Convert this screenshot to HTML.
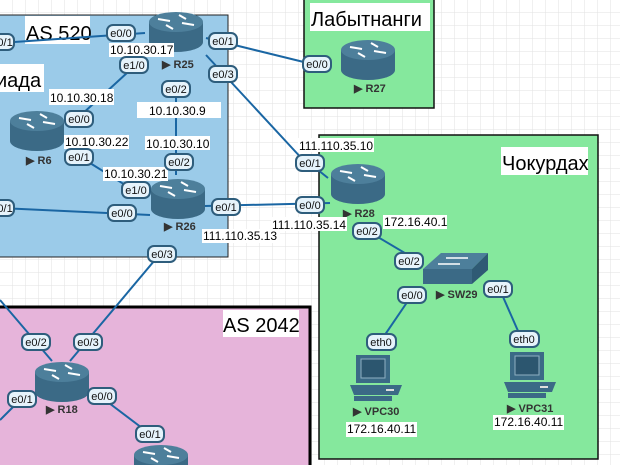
<!DOCTYPE html>
<html><head><meta charset="utf-8"><style>
html,body{margin:0;padding:0;width:620px;height:465px;overflow:hidden;background:#fff}
svg{display:block}
text{font-family:"Liberation Sans",sans-serif}
.p{fill:#e6f3fb;stroke:#2e5d7c;stroke-width:2}
.pt{font-size:11px;fill:#111;text-anchor:middle}
.ip{font-size:12px;fill:#000}
.ipb{fill:#fff}
.ln{stroke:#1a66a3;stroke-width:2;fill:none}
.nm{font-size:11px;font-weight:bold;fill:#333}
</style></head><body>
<svg width="620" height="465" viewBox="0 0 620 465">
<defs>
<pattern id="g" width="13" height="13" patternUnits="userSpaceOnUse"><path d="M13 0V13H0" fill="none" stroke="#e2e2e2" stroke-width="1"/></pattern>
<g id="rt">
<path d="M-27 0 V20 A27 10 0 0 0 27 20 V0 Z" fill="#3b6a86"/>
<ellipse cx="0" cy="0" rx="27" ry="10" fill="#4d7f9b"/>
<g stroke="#fff" stroke-width="2">
<line x1="-18" y1="-3" x2="-6" y2="-1"/><line x1="18" y1="3" x2="6" y2="1"/>
<line x1="3" y1="-7" x2="10" y2="-3"/><line x1="-3" y1="7" x2="-10" y2="3"/>
</g>
</g>
<g id="pc">
<rect x="6" y="0" width="34" height="28" fill="#3b6a86"/>
<rect x="11" y="4" width="24" height="19" fill="#2c566f" stroke="#8fb0c3" stroke-width="1"/>
<path d="M0 30 H52 L48 40 H4 Z" fill="#3b6a86"/>
<rect x="4" y="41" width="38" height="5" fill="#3b6a86"/>
<rect x="36" y="34" width="8" height="2" fill="#ddd"/>
</g>
</defs>
<rect width="620" height="465" fill="url(#g)"/>
<rect x="-5" y="15" width="233" height="242" fill="#9bcbe9" stroke="#222" stroke-width="1"/>
<rect x="304" y="-5" width="130" height="113" fill="#85e89d" stroke="#111" stroke-width="1.5"/>
<rect x="319" y="135" width="279" height="324" fill="#85e89d" stroke="#111" stroke-width="1.5"/>
<rect x="-5" y="307" width="315" height="170" fill="#e6b4da" stroke="#000" stroke-width="3"/>
<rect x="25" y="16" width="65" height="28" fill="#fff"/><text x="26" y="40" font-size="20">AS 520</text>
<rect x="0" y="64" width="44" height="28" fill="#fff"/><text x="-4" y="87" font-size="20">иада</text>
<rect x="310" y="3" width="120" height="28" fill="#fff"/><text x="311" y="26" font-size="20">Лабытнанги</text>
<rect x="501" y="147" width="87" height="28" fill="#fff"/><text x="502" y="170" font-size="20">Чокурдах</text>
<rect x="223" y="310" width="76" height="27" fill="#fff"/><text x="223" y="332" font-size="20">AS 2042</text>
<line class="ln" x1="0" y1="43" x2="145" y2="33"/>
<line class="ln" x1="206" y1="38" x2="320" y2="66"/>
<line class="ln" x1="206" y1="55" x2="305" y2="162"/>
<line class="ln" x1="176" y1="80" x2="176" y2="175"/>
<line class="ln" x1="128" y1="72" x2="68" y2="127"/>
<line class="ln" x1="90" y1="163" x2="130" y2="188"/>
<line class="ln" x1="0" y1="208" x2="150" y2="215"/>
<line class="ln" x1="205" y1="206" x2="330" y2="203"/>
<line class="ln" x1="165" y1="248" x2="70" y2="361"/>
<line class="ln" x1="0" y1="300" x2="52" y2="361"/>
<line class="ln" x1="15" y1="405" x2="0" y2="420"/>
<line class="ln" x1="105" y1="400" x2="150" y2="434"/>
<line class="ln" x1="318" y1="170" x2="328" y2="178"/>
<line class="ln" x1="366" y1="230" x2="420" y2="262"/>
<line class="ln" x1="412" y1="295" x2="378" y2="345"/>
<line class="ln" x1="500" y1="290" x2="522" y2="340"/>
<use href="#rt" x="176" y="22"/>
<use href="#rt" x="37" y="121"/>
<use href="#rt" x="178" y="189"/>
<use href="#rt" x="368" y="50"/>
<use href="#rt" x="358" y="174"/>
<use href="#rt" x="62" y="372"/>
<use href="#rt" x="161" y="455"/>
<path d="M423 269 L441 253 L488 253 L472 269 Z" fill="#4d7f9b"/>
<rect x="423" y="269" width="49" height="15" fill="#3b6a86"/>
<path d="M472 269 L488 253 V270 L472 284 Z" fill="#2f5a74"/>
<g stroke="#fff" stroke-width="1.5"><line x1="446" y1="258" x2="468" y2="258"/><line x1="438" y1="264" x2="460" y2="264"/></g>
<use href="#pc" x="350" y="355"/>
<use href="#pc" x="504" y="352"/>
<g class="nm">
<text x="162" y="68">▶ R25</text>
<text x="26" y="164">▶ R6</text>
<text x="164" y="230">▶ R26</text>
<text x="354" y="92">▶ R27</text>
<text x="343" y="217">▶ R28</text>
<text x="46" y="413">▶ R18</text>
<text x="436" y="298">▶ SW29</text>
<text x="353" y="415">▶ VPC30</text>
<text x="507" y="412">▶ VPC31</text>
</g>
<g class="ip">
<rect class="ipb" x="109" y="43" width="65" height="14"/><text x="110" y="54">10.10.30.17</text>
<rect class="ipb" x="49" y="89" width="65" height="16"/><text x="50" y="102">10.10.30.18</text>
<rect class="ipb" x="137" y="102" width="84" height="16"/><text x="149" y="115">10.10.30.9</text>
<rect class="ipb" x="64" y="135" width="65" height="14"/><text x="65" y="146">10.10.30.22</text>
<rect class="ipb" x="145" y="136" width="65" height="14"/><text x="146" y="148">10.10.30.10</text>
<rect class="ipb" x="103" y="167" width="65" height="14"/><text x="104" y="178">10.10.30.21</text>
<rect class="ipb" x="202" y="229" width="78" height="14"/><text x="203" y="240">111.110.35.13</text>
<rect class="ipb" x="298" y="138" width="76" height="14"/><text x="299" y="150">111.110.35.10</text>
<rect class="ipb" x="271" y="217" width="76" height="14"/><text x="272" y="229">111.110.35.14</text>
<rect class="ipb" x="383" y="215" width="64" height="14"/><text x="384" y="226">172.16.40.1</text>
<rect class="ipb" x="346" y="422" width="71" height="15"/><text x="347" y="433">172.16.40.11</text>
<rect class="ipb" x="493" y="415" width="71" height="15"/><text x="494" y="426">172.16.40.11</text>
</g>
<g>
<rect class="p" x="-14" y="34" width="28" height="16" rx="6"/><text class="pt" x="2" y="46">e0/1</text>
<rect class="p" x="107" y="25" width="28" height="16" rx="6"/><text class="pt" x="121" y="37">e0/0</text>
<rect class="p" x="120" y="57" width="28" height="16" rx="6"/><text class="pt" x="134" y="69">e1/0</text>
<rect class="p" x="209" y="33" width="28" height="16" rx="6"/><text class="pt" x="223" y="45">e0/1</text>
<rect class="p" x="209" y="66" width="28" height="16" rx="6"/><text class="pt" x="223" y="78">e0/3</text>
<rect class="p" x="162" y="81" width="28" height="16" rx="6"/><text class="pt" x="176" y="93">e0/2</text>
<rect class="p" x="65" y="111" width="28" height="16" rx="6"/><text class="pt" x="79" y="123">e0/0</text>
<rect class="p" x="65" y="149" width="28" height="16" rx="6"/><text class="pt" x="79" y="161">e0/1</text>
<rect class="p" x="165" y="154" width="28" height="16" rx="6"/><text class="pt" x="179" y="166">e0/2</text>
<rect class="p" x="122" y="182" width="28" height="16" rx="6"/><text class="pt" x="136" y="194">e1/0</text>
<rect class="p" x="-14" y="200" width="28" height="16" rx="6"/><text class="pt" x="2" y="212">e0/1</text>
<rect class="p" x="108" y="205" width="28" height="16" rx="6"/><text class="pt" x="122" y="217">e0/0</text>
<rect class="p" x="212" y="199" width="28" height="16" rx="6"/><text class="pt" x="226" y="211">e0/1</text>
<rect class="p" x="303" y="56" width="28" height="16" rx="6"/><text class="pt" x="317" y="68">e0/0</text>
<rect class="p" x="296" y="155" width="28" height="16" rx="6"/><text class="pt" x="310" y="167">e0/1</text>
<rect class="p" x="296" y="197" width="28" height="16" rx="6"/><text class="pt" x="310" y="209">e0/0</text>
<rect class="p" x="148" y="246" width="28" height="16" rx="6"/><text class="pt" x="162" y="258">e0/3</text>
<rect class="p" x="353" y="223" width="28" height="16" rx="6"/><text class="pt" x="367" y="235">e0/2</text>
<rect class="p" x="395" y="253" width="28" height="16" rx="6"/><text class="pt" x="409" y="265">e0/2</text>
<rect class="p" x="398" y="287" width="28" height="16" rx="6"/><text class="pt" x="412" y="299">e0/0</text>
<rect class="p" x="484" y="281" width="28" height="16" rx="6"/><text class="pt" x="498" y="293">e0/1</text>
<rect class="p" x="367" y="334" width="29" height="16" rx="6"/><text class="pt" x="381" y="346">eth0</text>
<rect class="p" x="510" y="331" width="29" height="16" rx="6"/><text class="pt" x="524" y="343">eth0</text>
<rect class="p" x="22" y="334" width="28" height="16" rx="6"/><text class="pt" x="36" y="346">e0/2</text>
<rect class="p" x="74" y="334" width="28" height="16" rx="6"/><text class="pt" x="88" y="346">e0/3</text>
<rect class="p" x="8" y="391" width="28" height="16" rx="6"/><text class="pt" x="22" y="403">e0/1</text>
<rect class="p" x="88" y="388" width="28" height="16" rx="6"/><text class="pt" x="102" y="400">e0/0</text>
<rect class="p" x="136" y="426" width="28" height="16" rx="6"/><text class="pt" x="150" y="438">e0/1</text>
</g>
</svg>
</body></html>
